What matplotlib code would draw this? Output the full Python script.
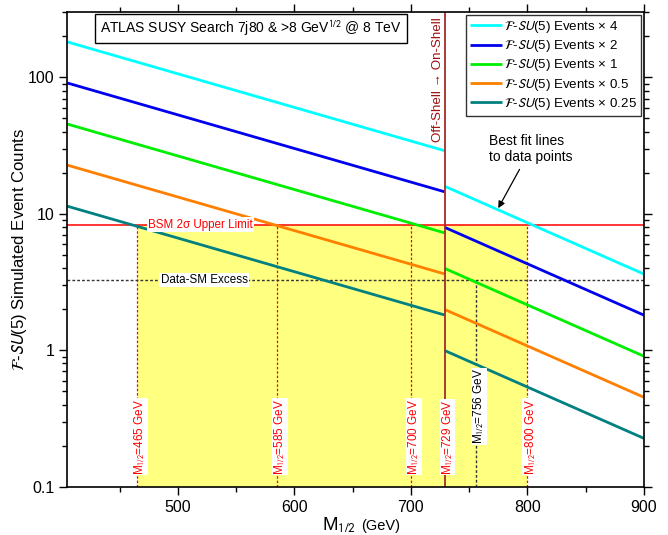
import matplotlib
matplotlib.use("Agg")
import matplotlib.pyplot as plt
from matplotlib.ticker import MultipleLocator, LogLocator, NullFormatter, FixedLocator, FixedFormatter
import matplotlib.transforms as mtransforms
import numpy as np

plt.rcParams['font.family'] = ['Liberation Sans', 'DejaVu Sans']
plt.rcParams['mathtext.fontset'] = 'stixsans'

# ---- data ----
scales = [4, 2, 1, 0.5, 0.25]
scale_text = ['4', '2', '1', '0.5', '0.25']
series_labels = [r"$\mathcal{F}$-$SU$(5) Events " + "\u00d7 " + t for t in scale_text]
colors = ['#00ffff', '#0000ee', '#00ee00', '#ff8000', '#008080']

m_off = [405, 729]          # off-shell fit range (GeV)
base_off = [45.5, 7.25]     # x1 events at ends of off-shell fit
m_on = [729, 900]           # on-shell fit range (GeV)
base_on = [3.98, 0.905]     # x1 events at ends of on-shell fit

bsm_limit = 8.35
excess = 3.27
red_marks = [465, 585, 700, 800]
shell_mass = 729
excess_mass = 756
fill_range = [465, 800]

xticks = [500, 600, 700, 800, 900]
yticks = [0.1, 1, 10, 100]
ytick_labels = ['0.1', '1', '10', '100']

# ---- figure ----
fig = plt.figure(figsize=(6.68, 5.35), dpi=100)
ax = fig.add_axes([0.1008, 0.0903, 0.8630, 0.8867])
ax.set_yscale('log')
ax.set_xlim(405, 900)
ax.set_ylim(0.1, 300)

# yellow region
ax.fill_between(fill_range, [0.1, 0.1], [bsm_limit, bsm_limit],
                color='#ffff80', lw=0, zorder=1)

# vertical marker lines
for m in red_marks:
    ax.plot([m, m], [0.1, bsm_limit], color='#ff0000', ls=(0, (2, 1.5)), lw=0.9, zorder=2)
ax.plot([excess_mass, excess_mass], [0.1, excess], color='#333333', ls=(0, (2, 1.5)), lw=1.0, zorder=2)

# horizontal lines
ax.axhline(bsm_limit, color='#ff0000', lw=1.1, zorder=3)
ax.axhline(excess, color='#333333', ls=(0, (2, 1.5)), lw=1.0, zorder=3)

# fitted lines
handles = []
for s, c, lab in zip(scales, colors, series_labels):
    h, = ax.plot(m_off, [b * s for b in base_off], color=c, lw=2.0, zorder=4, label=lab,
                 solid_capstyle='butt')
    ax.plot(m_on, [b * s for b in base_on], color=c, lw=2.0, zorder=4, solid_capstyle='butt')
    handles.append(h)

# off-shell / on-shell divider
ax.axvline(shell_mass, color='#a52a2a', lw=1.3, zorder=5)
trans = mtransforms.blended_transform_factory(ax.transData, ax.transAxes)
ax.text(shell_mass - 5.5, 0.989, "Off-Shell \u2192 On-Shell", rotation=90, color='#a01010',
        ha='center', va='top', fontsize=9.6, transform=trans, zorder=6)

# horizontal line labels
ax.text(474, bsm_limit, "BSM 2\u03c3 Upper Limit", color='#ff0000', fontsize=8.4,
        ha='left', va='center', zorder=6,
        bbox=dict(boxstyle='square,pad=0.1', fc='white', ec='none'))
ax.text(485, excess, "Data-SM Excess", color='black', fontsize=8.4,
        ha='left', va='center', zorder=6,
        bbox=dict(boxstyle='square,pad=0.1', fc='white', ec='none'))

# rotated mass labels
lab_y = 0.025
for m in red_marks + [shell_mass]:
    ax.text(m + 2.5, lab_y, "M$_{1/2}$=%d GeV" % m, rotation=90, color='#ff0000', fontsize=8.5,
            ha='center', va='bottom', transform=trans, zorder=6,
            bbox=dict(boxstyle='square,pad=0.05', fc='white', ec='none'))
ax.text(excess_mass + 2.5, 0.09, "M$_{1/2}$=%d GeV" % excess_mass, rotation=90, color='black',
        fontsize=8.5, ha='center', va='bottom', transform=trans, zorder=6,
        bbox=dict(boxstyle='square,pad=0.05', fc='white', ec='none'))

# title box
ax.text(0.3187, 0.9657, "ATLAS SUSY Search 7j80 & >8 GeV$^{1/2}$ @ 8 TeV", transform=ax.transAxes,
        ha='center', va='center', fontsize=10, zorder=7,
        bbox=dict(boxstyle='square,pad=0.35', fc='white', ec='black', lw=1.0))

# annotation
ax.annotate("Best fit lines\nto data points", xy=(775, 11.0), xytext=(767, 38.5),
            fontsize=10, ha='left', va='top', zorder=7,
            arrowprops=dict(arrowstyle='-|>', color='black', lw=0.9, mutation_scale=10,
                            shrinkA=2, shrinkB=0))

# legend
leg = ax.legend(handles=handles, loc='upper right', fontsize=9.6, frameon=True, fancybox=False,
                framealpha=1, edgecolor='#333333', borderaxespad=0.22, handlelength=2.4,
                labelspacing=0.24, borderpad=0.28, handletextpad=0.2)
leg.get_frame().set_linewidth(1.0)
leg.set_zorder(8)

# axes styling
ax.xaxis.set_major_locator(FixedLocator(xticks))
ax.xaxis.set_minor_locator(MultipleLocator(50))
ax.yaxis.set_major_locator(FixedLocator(yticks))
ax.yaxis.set_major_formatter(FixedFormatter(ytick_labels))
ax.yaxis.set_minor_locator(LogLocator(base=10, subs=np.arange(2, 10), numticks=20))
ax.yaxis.set_minor_formatter(NullFormatter())
ax.tick_params(which='both', direction='out', top=True, right=True, labelsize=11.5, width=1.0)
ax.tick_params(which='major', length=6)
ax.tick_params(which='minor', length=3.5)
for sp in ax.spines.values():
    sp.set_linewidth(1.2)
    sp.set_zorder(9)

# x label: M_{1/2} large, (GeV) smaller
fig.text(322 / 668, 1 - 530 / 535, "M$_{1/2}$", fontsize=13.5, ha='left', va='baseline')
fig.text(361 / 668, 1 - 530 / 535, "(GeV)", fontsize=10.5, ha='left', va='baseline')

ax.set_ylabel(r"$\mathcal{F}$-$SU$(5) Simulated Event Counts", fontsize=12.1)
ax.yaxis.set_label_coords(-0.066, 0.5)

fig.savefig("out.png", dpi=100)
